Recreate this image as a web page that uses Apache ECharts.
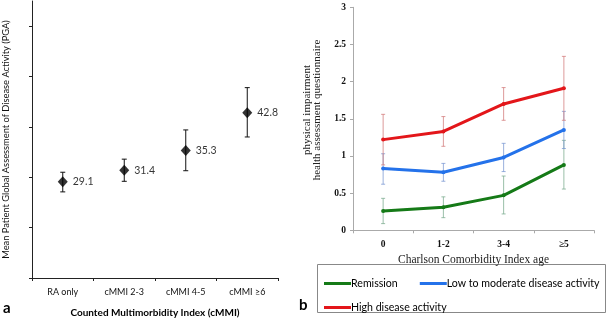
<!DOCTYPE html>
<html><head><meta charset="utf-8">
<script src="https://cdn.jsdelivr.net/npm/echarts@6/dist/echarts.min.js"></script>
<style>html,body{margin:0;padding:0;background:#fff}#c{width:608px;height:318px}</style>
</head><body><div id="c"></div>
<script>
// Panel a
const catsA = ['RA only', 'cMMI 2-3', 'cMMI 4-5', 'cMMI \u22656'];
const pgaMean = [29.1, 31.4, 35.3, 42.8];
const pgaLow = [27.1, 29.2, 31.3, 38.0];
const pgaHigh = [31.0, 33.6, 39.4, 47.8];
const yTicksA = [10, 20, 30, 40, 50, 60];
// Panel b
const catsB = ['0', '1-2', '3-4', '\u22655'];
const remission = [0.26, 0.31, 0.47, 0.88];
const remissionLow = [0.09, 0.17, 0.22, 0.555];
const remissionHigh = [0.43, 0.45, 0.73, 1.21];
const lowMod = [0.83, 0.78, 0.98, 1.35];
const lowModLow = [0.62, 0.66, 0.79, 1.10];
const lowModHigh = [1.03, 0.90, 1.17, 1.60];
const highAct = [1.22, 1.33, 1.70, 1.91];
const highActLow = [0.88, 1.13, 1.48, 1.48];
const highActHigh = [1.56, 1.53, 1.92, 2.34];
const names = ['Remission', 'Low to moderate disease activity', 'High disease activity'];

const chart = echarts.init(document.getElementById('c'), null, {renderer: 'canvas'});
const sans = 'Lato';
const serif = 'Liberation Serif';

function errBar(capHalf, color, xIdx, yIdx, low, high, name) {
  return {
    type: 'custom', xAxisIndex: xIdx, yAxisIndex: yIdx, name: name, z: 1,
    silent: true,
    data: low.map((l, i) => [i, l, high[i]]),
    renderItem: function (params, api) {
      const x = api.value(0);
      const p1 = api.coord([x, api.value(1)]);
      const p2 = api.coord([x, api.value(2)]);
      const st = {stroke: color, lineWidth: 1};
      return {type: 'group', children: [
        {type: 'line', shape: {x1: p1[0], y1: p1[1], x2: p2[0], y2: p2[1]}, style: st},
        {type: 'line', shape: {x1: p1[0] - capHalf, y1: p1[1], x2: p1[0] + capHalf, y2: p1[1]}, style: st},
        {type: 'line', shape: {x1: p2[0] - capHalf, y1: p2[1], x2: p2[0] + capHalf, y2: p2[1]}, style: st}
      ]};
    }
  };
}

const colors = ['#157a17', '#2472ea', '#e3161a'];
const errColors = ['rgba(120,170,140,0.75)', 'rgba(120,150,210,0.75)', 'rgba(210,120,120,0.75)'];

chart.setOption({
  animation: false,
  grid: [
    {left: 32, top: 1, right: 330, bottom: 40, outerBoundsMode: 'none', containLabel: false},
    {left: 353, top: 7.3, right: 14, bottom: 87.7, outerBoundsMode: 'none', containLabel: false}
  ],
  xAxis: [
    {type: 'category', gridIndex: 0, data: catsA, boundaryGap: true,
     axisLine: {lineStyle: {color: '#222', width: 1}},
     axisTick: {show: true, length: 3, lineStyle: {color: '#222'}},
     axisLabel: {fontFamily: sans, fontSize: 9, color: '#111', margin: 10},
     name: 'Counted Multimorbidity Index (cMMI)', nameLocation: 'middle', nameGap: 30,
     nameTextStyle: {fontFamily: sans, fontSize: 10, fontWeight: 'bold', color: '#000'}},
    {type: 'category', gridIndex: 1, data: catsB, boundaryGap: true,
     axisLine: {lineStyle: {color: '#aaa', width: 1}},
     axisTick: {show: true, length: 3, lineStyle: {color: '#aaa'}},
     axisLabel: {fontFamily: serif, fontSize: 9.5, fontWeight: 'bold', color: '#111', margin: 9},
     name: 'Charlson Comorbidity Index age', nameLocation: 'middle', nameGap: 24,
     nameTextStyle: {fontFamily: serif, fontSize: 11.5, color: '#222'}}
  ],
  yAxis: [
    {type: 'value', gridIndex: 0, min: 10, max: 65, interval: 10,
     splitLine: {show: false},
     axisLine: {show: true, lineStyle: {color: '#222', width: 1}},
     axisTick: {show: true, length: 3, customValues: yTicksA, lineStyle: {color: '#222'}},
     axisLabel: {show: false},
     name: 'Mean Patient Global Assessment of Disease Activity (PGA)', nameLocation: 'middle', nameGap: 22,
     nameRotate: 90,
     nameTextStyle: {fontFamily: sans, fontSize: 9.3, color: '#111'}},
    {type: 'value', gridIndex: 1, min: 0, max: 3, interval: 0.5,
     splitLine: {show: false},
     axisLine: {show: true, lineStyle: {color: '#aaa', width: 1}},
     axisTick: {show: true, length: 3, lineStyle: {color: '#aaa'}},
     axisLabel: {fontFamily: serif, fontSize: 9.5, fontWeight: 'bold', color: '#111', margin: 7}}
  ],
  legend: [
    {left: 319, top: 273, width: 400, itemWidth: 27, itemHeight: 3, itemGap: 22, icon: 'rect',
     data: [names[0], names[1]],
     textStyle: {fontFamily: sans, fontSize: 10.6, color: '#000', padding: [0, 0, 0, -5]}},
    {left: 319, top: 297, width: 400, itemWidth: 27, itemHeight: 3, itemGap: 22, icon: 'rect',
     data: [names[2]],
     textStyle: {fontFamily: sans, fontSize: 10.6, color: '#000', padding: [0, 0, 0, -5]}}
  ],
  graphic: [
    {type: 'rect', shape: {x: 317.5, y: 264.5, width: 288, height: 48},
     style: {fill: 'none', stroke: '#888', lineWidth: 1}},
    {type: 'text', x: 312, y: 110, rotation: Math.PI / 2,
     style: {text: 'physical impairment\nhealth assessment questionnaire', fontFamily: serif,
             fontSize: 11, lineHeight: 9.5, fill: '#222', align: 'center', verticalAlign: 'middle'}},
    {type: 'text', x: 3, y: 301, style: {text: 'a', fontFamily: sans, fontSize: 15, fontWeight: 'bold', fill: '#000'}},
    {type: 'text', x: 299, y: 298, style: {text: 'b', fontFamily: sans, fontSize: 15, fontWeight: 'bold', fill: '#000'}}
  ],
  series: [
    errBar(2.5, '#111', 0, 0, pgaLow, pgaHigh, 'errA'),
    {type: 'scatter', xAxisIndex: 0, yAxisIndex: 0, data: pgaMean, symbol: 'diamond',
     symbolSize: [10, 11], itemStyle: {color: '#000'}, z: 3,
     label: {show: true, position: 'right', distance: 5, fontFamily: sans, fontSize: 10.5, color: '#000'}},
    errBar(2, errColors[0], 1, 1, remissionLow, remissionHigh, 'e0'),
    errBar(2, errColors[1], 1, 1, lowModLow, lowModHigh, 'e1'),
    errBar(2, errColors[2], 1, 1, highActLow, highActHigh, 'e2'),
    {type: 'line', name: names[0], xAxisIndex: 1, yAxisIndex: 1, data: remission, z: 3,
     color: colors[0], lineStyle: {width: 3}, symbol: 'circle', symbolSize: 4, showSymbol: true},
    {type: 'line', name: names[1], xAxisIndex: 1, yAxisIndex: 1, data: lowMod, z: 3,
     color: colors[1], lineStyle: {width: 3}, symbol: 'circle', symbolSize: 4},
    {type: 'line', name: names[2], xAxisIndex: 1, yAxisIndex: 1, data: highAct, z: 3,
     color: colors[2], lineStyle: {width: 3}, symbol: 'circle', symbolSize: 4}
  ]
});
</script></body></html>
